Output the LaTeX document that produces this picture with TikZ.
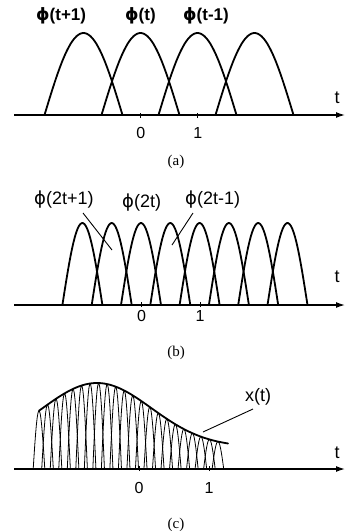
\documentclass[tikz,border=0pt]{standalone}
\usepackage{fontspec}
\setmainfont{Liberation Serif}
\setsansfont{Liberation Sans}
\newfontfamily\symfont{DejaVu Sans}
\usetikzlibrary{arrows.meta}
\tikzset{
  axisline/.style={line width=1.3pt,-{Latex[length=9pt,width=6pt]}},
  tickmark/.style={line width=1pt},
  bumpline/.style={line width=1.8pt,line join=round},
  thinbump/.style={line width=0.8pt,line join=round},
  envline/.style={line width=1.8pt,line cap=round},
  leader/.style={line width=0.9pt},
  lab/.style={font=\sffamily\fontsize{18}{18}\selectfont,inner sep=0pt,anchor=center},
  blab/.style={font=\sffamily\bfseries\fontsize{17}{17}\selectfont,inner sep=0pt,anchor=west},
  wlab/.style={font=\sffamily\fontsize{18}{18}\selectfont,inner sep=0pt,anchor=west},
  numlab/.style={font=\sffamily\fontsize{16}{16}\selectfont,inner sep=0pt,anchor=center},
  captext/.style={font=\rmfamily\fontsize{15}{15}\selectfont,inner sep=0pt,anchor=center}
}
\newcommand{\ph}{{\symfont ϕ}}
\begin{document}
\begin{tikzpicture}[x=1pt,y=-1pt]
\useasboundingbox (0,0) rectangle (346,531);
% ---------- panel (a)
\coordinate (aL) at (14,115);
\coordinate (aR) at (345,115);
\draw[axisline] (aL) -- (aR);
\foreach \k in {-1,0,1,2}{
  \pgfmathsetmacro{\cx}{140.5+57*\k}
  \draw[bumpline] plot[domain=-39:39,samples=40] ({\cx+\x},{115-82*cos(\x/39*90)});
}
\coordinate (a0) at (140.7,115);
\coordinate (a1) at (197.7,115);
\draw[tickmark] ([yshift=-3pt]a0) -- ([yshift=2.5pt]a0);
\draw[tickmark] ([yshift=-3pt]a1) -- ([yshift=2.5pt]a1);
\node[blab] (labA) at (36,16) {\ph(t+1)};
\node[blab] (labB) at (125,16) {\ph(t)};
\node[blab] (labC) at (183,16) {\ph(t-1)};
\node[lab] (lat) at (337,98) {t};
\node[numlab] (la0) at (140.7,133) {0};
\node[numlab] (la1n) at (197.7,133) {1};
\node[captext] (capa) at (176,162) {(a)};
% ---------- panel (b)
\coordinate (bL) at (14,305);
\coordinate (bR) at (345,305);
\draw[axisline] (bL) -- (bR);
\foreach \k in {-2,...,5}{
  \pgfmathsetmacro{\cx}{141+29.3*\k}
  \draw[bumpline] plot[domain=-20:20,samples=30] ({\cx+\x},{305-82*cos(\x/20*90)});
}
\coordinate (b0) at (141.5,305);
\coordinate (b1) at (200,305);
\draw[tickmark] ([yshift=-2pt]b0) -- ([yshift=3pt]b0);
\draw[tickmark] ([yshift=-2pt]b1) -- ([yshift=3pt]b1);
\node[wlab] (labD) at (34,200) {\ph(2t+1)};
\node[wlab] (labE) at (122,203) {\ph(2t)};
\node[wlab] (labF) at (185,200) {\ph(2t-1)};
\coordinate (pb1) at (112,250);
\coordinate (pb3) at (172,245);
\draw[leader] (83,213) -- (pb1);
\draw[leader] (193,213) -- (pb3);
\node[lab] (lbt) at (337,277) {t};
\node[numlab] (lb0) at (141.5,316) {0};
\node[numlab] (lb1n) at (200,316) {1};
\node[captext] (capb) at (176,353) {(b)};
% ---------- panel (c)
\coordinate (cL) at (14,469);
\coordinate (cR) at (345,469);
\draw[axisline] (cL) -- (cR);
\foreach \i in {0,...,21}{
  \pgfmathsetmacro{\cx}{39+8.52*\i}
  \pgfmathsetmacro{\hh}{22+64*exp(-((\cx-97)/77)*((\cx-97)/77))}
  \draw[thinbump] plot[domain=-5.8:5.8,samples=16] ({\cx+\x},{469-\hh*cos(\x/5.8*90)});
}
\draw[envline] plot[domain=39:228,samples=70] (\x,{469-(22+64*exp(-((\x-97)/77)*((\x-97)/77)))});
\coordinate (c0) at (139,469);
\coordinate (c1) at (209,469);
\draw[tickmark] ([yshift=-2pt]c0) -- ([yshift=3pt]c0);
\draw[tickmark] ([yshift=-2pt]c1) -- ([yshift=3pt]c1);
\node[lab] (lx) at (258,397) {x(t)};
\coordinate (px) at (203,432);
\draw[leader] (253,409) -- (px);
\node[lab] (lct) at (337,453) {t};
\node[numlab] (lc0) at (139,488) {0};
\node[numlab] (lc1n) at (209,488) {1};
\node[captext] (capc) at (176,525) {(c)};
\end{tikzpicture}
\end{document}
